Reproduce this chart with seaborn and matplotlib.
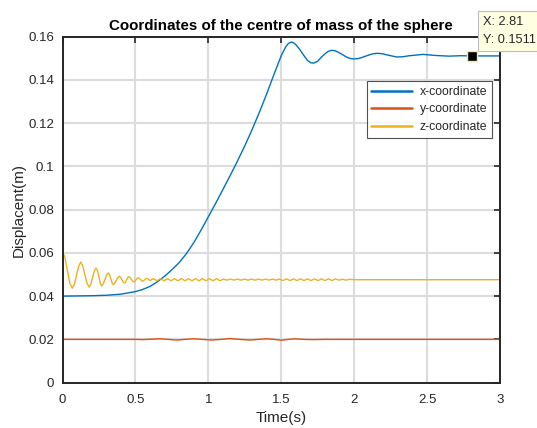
import numpy as np
import pandas as pd
import matplotlib
matplotlib.use("Agg")
import matplotlib.pyplot as plt
import seaborn as sns

# ---------------- data ----------------
t_x = [0, 0.1, 0.2, 0.3, 0.4, 0.5, 0.55, 0.6, 0.65, 0.7, 0.75, 0.8, 0.85, 0.9, 0.95,
       1.0, 1.05, 1.1, 1.15, 1.2, 1.25, 1.3, 1.35, 1.4, 1.45, 1.5, 1.53, 1.548, 1.567,
       1.585, 1.6, 1.625, 1.65, 1.68, 1.704, 1.725, 1.75, 1.775, 1.8, 1.822, 1.846,
       1.87, 1.9, 1.95, 1.975, 2.001, 2.03, 2.05, 2.1, 2.13, 2.162, 2.195, 2.23, 2.292,
       2.33, 2.38, 2.473, 2.56, 2.65, 2.73, 2.81, 2.9, 3.0]
x_coord = [0.0400, 0.0401, 0.0402, 0.0404, 0.0409, 0.0421, 0.0431, 0.0445, 0.0466, 0.0492,
           0.0522, 0.0555, 0.0597, 0.0647, 0.0705, 0.0767, 0.0829, 0.0893, 0.0958, 0.1025,
           0.1095, 0.1170, 0.1250, 0.1335, 0.1425, 0.1512, 0.1552, 0.1568, 0.1575,
           0.1572, 0.1563, 0.1543, 0.1518, 0.1490, 0.1479, 0.1478, 0.1487, 0.1505, 0.1521,
           0.1532, 0.1537, 0.1535, 0.1525, 0.1505, 0.1499, 0.1497, 0.1499, 0.1503, 0.1515,
           0.1521, 0.1523, 0.1521, 0.1515, 0.1506, 0.1507, 0.1512, 0.1518, 0.1513, 0.1510,
           0.1512, 0.1511, 0.1511, 0.1511]

t_y = [0, 0.5, 0.55, 0.612, 0.669, 0.726, 0.783, 0.840, 0.897, 0.960, 1.023, 1.086, 1.149,
       1.218, 1.286, 1.343, 1.400, 1.452, 1.503, 1.549, 1.595, 1.65, 1.72, 1.8, 3.0]
y_coord = [0.0200, 0.0200, 0.0199, 0.0201, 0.0203, 0.0200, 0.0197, 0.0200, 0.0203, 0.0200,
           0.0197, 0.0200, 0.0204, 0.0200, 0.0197, 0.0200, 0.0203, 0.0200, 0.0196, 0.0200,
           0.0203, 0.0200, 0.0199, 0.0200, 0.0200]

t_z = [0, 0.015, 0.033, 0.050, 0.067, 0.082, 0.096, 0.110, 0.125, 0.139, 0.153, 0.168, 0.182,
       0.194, 0.206, 0.218, 0.230, 0.240, 0.250, 0.259, 0.269, 0.280, 0.291, 0.302, 0.314,
       0.322, 0.331, 0.340, 0.348, 0.358, 0.369, 0.380, 0.390, 0.398, 0.407, 0.416, 0.424,
       0.432, 0.440, 0.448, 0.456, 0.464, 0.473, 0.482, 0.490, 0.498, 0.505, 0.513, 0.520,
       0.528, 0.535, 0.543, 0.550, 0.558, 0.565, 0.573, 0.580, 0.590, 0.600,
       0.624, 0.648, 0.672, 0.696, 0.720, 0.744, 0.768, 0.792, 0.816, 0.840, 0.864, 0.888,
       0.912, 0.936, 0.960, 0.984, 1.008, 1.032, 1.056, 1.080, 1.104, 1.128, 1.152, 1.176,
       1.200, 1.224, 1.248, 1.272, 1.296, 1.320, 1.344, 1.368, 1.392, 1.416, 1.440, 1.464,
       1.488, 1.512, 1.536, 1.560, 1.584, 1.608, 1.632, 1.656, 1.680, 1.704, 1.728, 1.752,
       1.776, 1.800, 1.824, 1.848, 1.872, 1.896, 1.920, 1.944, 1.968, 2.0, 3.0]
z_coord = [0.0600, 0.0585, 0.0520, 0.0460, 0.0437, 0.0455, 0.0497, 0.0537, 0.0558, 0.0540,
           0.0500, 0.0460, 0.0442, 0.0455, 0.0486, 0.0516, 0.0530, 0.0518, 0.0489, 0.0460,
           0.0447, 0.0458, 0.0477, 0.0497, 0.0507, 0.0500, 0.0480, 0.0461, 0.0453, 0.0460,
           0.0473, 0.0486, 0.0492, 0.0487, 0.0476, 0.0465, 0.0461, 0.0465, 0.0476, 0.0486,
           0.0490, 0.0485, 0.0477, 0.0469, 0.0466, 0.0470, 0.0477, 0.0483, 0.0485, 0.0482,
           0.0477, 0.0471, 0.0469, 0.0472, 0.0477, 0.0481, 0.0483, 0.0477, 0.0472,
           0.0481, 0.0471, 0.0481, 0.0471, 0.0481, 0.0471, 0.0481, 0.0471, 0.0481, 0.0471,
           0.0481, 0.0471, 0.0481, 0.0471, 0.0481, 0.0471, 0.0481, 0.0471, 0.0481, 0.0471,
           0.0479, 0.0474, 0.0479, 0.0474, 0.0479, 0.0474, 0.0479, 0.0474, 0.0479, 0.0474,
           0.0479, 0.0474, 0.0479, 0.0474, 0.0479, 0.0474, 0.0479, 0.0472, 0.0480, 0.0472,
           0.0480, 0.0472, 0.0480, 0.0472, 0.0480, 0.0472, 0.0480, 0.0472, 0.0480, 0.0472,
           0.0480, 0.0472, 0.0480, 0.0474, 0.0478, 0.0474, 0.0478, 0.0476, 0.0476]

series_names = ["x-coordinate", "y-coordinate", "z-coordinate"]
series_colors = ["#0072BD", "#D95319", "#EDB120"]
x_ticks = [0, 0.5, 1, 1.5, 2, 2.5, 3]
x_tick_labels = ["0", "0.5", "1", "1.5", "2", "2.5", "3"]
y_ticks = [0, 0.02, 0.04, 0.06, 0.08, 0.1, 0.12, 0.14, 0.16]
y_tick_labels = ["0", "0.02", "0.04", "0.06", "0.08", "0.1", "0.12", "0.14", "0.16"]
tip_x, tip_y = 2.81, 0.1511

# ---------------- build frame ----------------
df = pd.concat([
    pd.DataFrame({"Time": t_x, "Value": x_coord, "series": series_names[0]}),
    pd.DataFrame({"Time": t_y, "Value": y_coord, "series": series_names[1]}),
    pd.DataFrame({"Time": t_z, "Value": z_coord, "series": series_names[2]}),
], ignore_index=True)

sns.set_style("white")
plt.rcParams["font.family"] = ["Liberation Sans", "DejaVu Sans"]

fig = plt.figure(figsize=(5.37, 4.28), dpi=100)
ax = fig.add_axes([0.1164, 0.106, 0.8146, 0.8083])

sns.lineplot(data=df, x="Time", y="Value", hue="series", hue_order=series_names,
             palette=series_colors, linewidth=1.0, ax=ax, sort=False, estimator=None,
             legend=False)

ax.set_xlim(0, 3)
ax.set_ylim(0, 0.16)
ax.set_xticks(x_ticks)
ax.set_xticklabels(x_tick_labels)
ax.set_yticks(y_ticks)
ax.set_yticklabels(y_tick_labels)
ax.grid(True, color="#dcdcdc", linewidth=1.5)
ax.set_axisbelow(True)
for s in ax.spines.values():
    s.set_visible(True)
    s.set_color("#262626")
    s.set_linewidth(1.4)
ax.tick_params(direction="in", length=4, width=1.2, color="#262626",
               top=True, right=True, labelsize=9.5, labelcolor="#262626")
ax.tick_params(axis="x", pad=8)
ax.tick_params(axis="y", pad=6)

ax.set_xlabel("Time(s)", fontsize=11, color="#262626", labelpad=4)
ax.set_ylabel("Displacent(m)", fontsize=11, color="#262626", labelpad=2)
ax.set_title("Coordinates of the centre of mass of the sphere", fontsize=10.9,
             fontweight="bold", color="black", pad=5)

handles = [plt.Line2D([], [], color=c, linewidth=1.8) for c in series_colors]
leg = ax.legend(handles, series_names, loc="upper right", bbox_to_anchor=(0.982, 0.872),
                fontsize=8.8, frameon=True, fancybox=False, handlelength=3.35,
                borderpad=0.4, labelspacing=0.45, handletextpad=0.6, borderaxespad=0)
leg.get_frame().set_edgecolor("#262626")
leg.get_frame().set_linewidth(0.8)

# data tip
ax.plot([tip_x], [tip_y], marker="s", markersize=7, color="black",
        markeredgecolor="#f2e9a0", markeredgewidth=1.0, zorder=5, clip_on=False)
fig.text(0.899, 0.962, "X: 2.81\nY: 0.1511", fontsize=9.2, color="#262626",
         ha="left", va="top", linespacing=1.6,
         bbox=dict(boxstyle="square,pad=0.4", facecolor="#ffffe1", edgecolor="#bdbdbd",
                   linewidth=0.8))

fig.savefig("out.png", dpi=100)
